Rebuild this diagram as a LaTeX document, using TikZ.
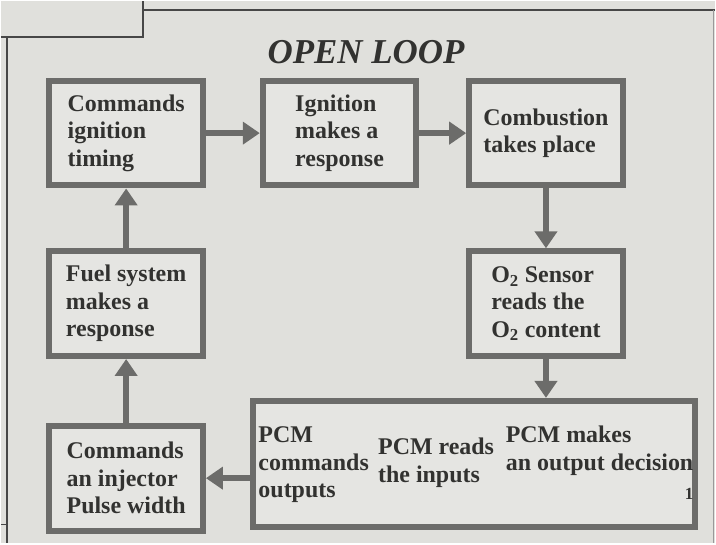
\documentclass[tikz,border=0pt]{standalone}
\usepackage{fontspec}
\setmainfont{Liberation Serif}
\usepackage{tikz}
\usetikzlibrary{arrows.meta}
\usetikzlibrary{positioning}
\definecolor{paper}{RGB}{224,224,220}
\definecolor{boxfill}{RGB}{229,229,226}
\definecolor{rim}{RGB}{108,108,106}
\definecolor{ink}{RGB}{50,50,48}

\begin{document}
\begin{tikzpicture}[x=1pt, y=1pt, >={Triangle[length=17pt,width=22pt]},
  blk/.style={draw=rim, line width=6pt, fill=boxfill, text=ink, align=left, inner sep=0pt,
    minimum width=154pt, minimum height=105pt, font=\bfseries\fontsize{24}{27.5}\selectfont},
  txt/.style={text=ink, align=left, inner sep=0pt, anchor=north west,
    font=\bfseries\fontsize{24}{27.5}\selectfont},
  flow/.style={->, draw=rim, line width=6pt}]
\fill[paper] (0,0) rectangle (716,544);
\draw[line width=2pt, black!72] (0,508) -- (142,508) -- (142,544);
\draw[line width=2pt, black!72] (142,534.5) -- (716,534.5);
\draw[line width=2pt, black!72] (6,508) -- (6,0);
\draw[line width=1.5pt, black!72] (0,19) -- (6,19);
\draw[line width=1.2pt, black!40] (714.5,534.5) -- (714.5,0);
\node (title) [anchor=base, text=ink, font=\bfseries\itshape\fontsize{35}{38}\selectfont] at (366,481) {OPEN LOOP};
\node (cmd) [blk] at (125.5,411.5) {Commands\\ ignition\\timing};
\node (ign) [blk, right=54pt of cmd] {Ignition\\makes a\\response};
\node (comb) [blk, right=47pt of ign] {Combustion\\takes place};
\node (oxy) [blk, below=60pt of comb] {O\textsubscript{2} Sensor\\reads the\\O\textsubscript{2} content};
\node (fuel) [blk, below=60pt of cmd] {Fuel system\\makes a\\response};
\node (inj) [blk, below=64pt of fuel] {Commands\\an injector\\Pulse width};
\node (pcm) [blk, minimum width=443pt, minimum height=126pt, below=39pt of oxy, xshift=-72pt] {};
\node (pcmout) [txt] at ([xshift=8pt, yshift=-28.8pt]pcm.north west) {PCM\\commands\\outputs};
\node (pcmin) [txt] at ([xshift=128pt, yshift=-40.3pt]pcm.north west) {PCM reads\\the inputs};
\node (pcmdec) [txt] at ([xshift=256pt, yshift=-28.3pt]pcm.north west) {PCM makes\\an output decision};
\node (pgno) [anchor=base, text=ink, inner sep=0pt, font=\bfseries\fontsize{17}{18}\selectfont] at (690,44) {1};
\draw[flow] (cmd) -- (ign);
\draw[flow] (ign) -- (comb);
\draw[flow] (comb) -- (oxy);
\draw[flow] (oxy) -- (oxy |- pcm.north);
\draw[flow] (inj -| pcm.west) -- (inj);
\draw[flow] (inj) -- (fuel);
\draw[flow] (fuel) -- (cmd);
\end{tikzpicture}
\end{document}
